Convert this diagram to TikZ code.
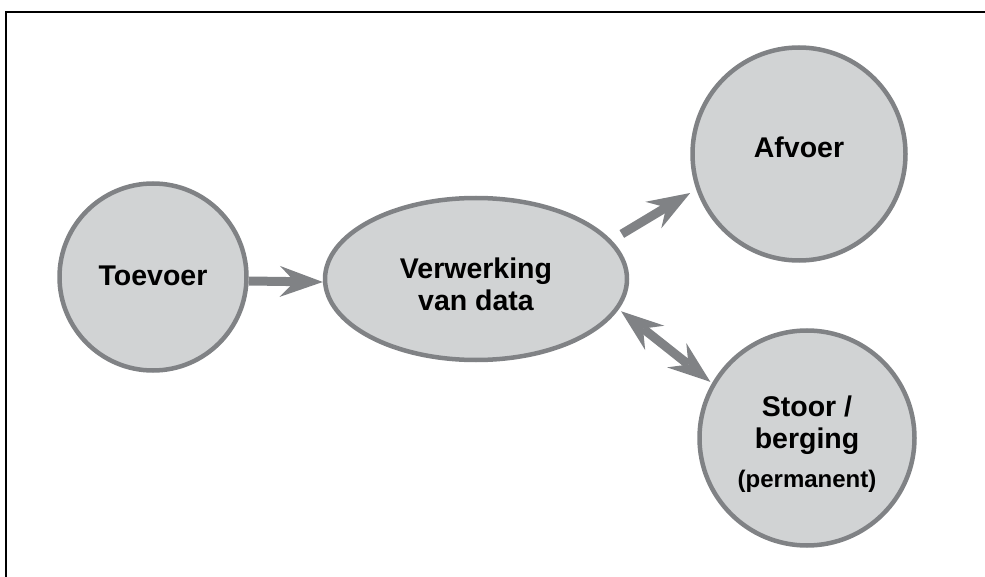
\documentclass[tikz,border=0pt]{standalone}
\usepackage{fontspec}
\setmainfont{Liberation Sans}
\usetikzlibrary{shapes.geometric, arrows.meta}
\definecolor{rimgray}{RGB}{128,130,133}
\definecolor{blobgray}{RGB}{209,211,212}

\begin{document}
\begin{tikzpicture}[x=1pt, y=-1pt,
  every node/.style = {draw=rimgray, fill=blobgray, line width=4.5pt, align=center,
    inner sep=0pt, text height=20pt, font=\bfseries\fontsize{28.5}{32}\selectfont},
  flow/.style = {draw=rimgray, line width=9pt,
    >={Stealth[length=43pt, width=31pt, inset=15pt, line width=0pt]}}]
  \useasboundingbox (0,0) rectangle (985,577);
  \draw[line width=2pt] (6,577) -- (6,12) -- (985,12);
  \node[circle, minimum size=187pt, text depth=2pt] (toe) at (153,277) {Toevoer};
  \node[ellipse, minimum width=302pt, minimum height=162pt, text height=62pt,
    text depth=0pt] (verw) at (476,279) {Verwerking\\van data};
  \node[circle, minimum size=213pt, text depth=12pt] (afv) at (799,154) {Afvoer};
  \node[circle, minimum size=215pt, text height=103pt, text depth=5pt] (stoor)
    at (807,438) {Stoor /\\berging\\[7pt]{\fontsize{24}{28}\selectfont (permanent)}};
  \draw[flow, ->] ([yshift=-4pt]toe.east) -- ([yshift=-3pt]verw.west);
  \draw[flow, ->, shorten <=12pt, shorten >=7pt] (verw.16.6) -- (afv.199.6);
  \draw[flow, <->, shorten <=3pt, shorten >=2pt] (verw.348.7) -- (stoor.150.4);
\end{tikzpicture}
\end{document}
